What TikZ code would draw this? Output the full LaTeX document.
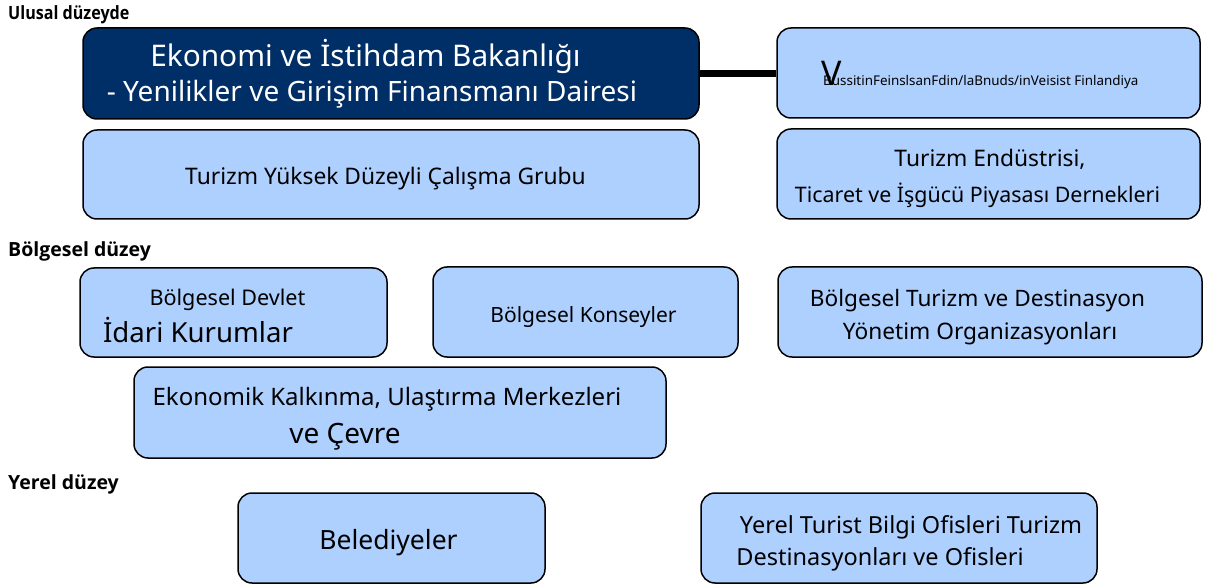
\documentclass[tikz,border=0pt]{standalone}
\usepackage{fontspec}
\setmainfont{Noto Sans}
\newfontfamily\lvlfont[FakeStretch=0.88]{Open Sans}
\newfontfamily\lvlwide{Open Sans}
\definecolor{boxblue}{RGB}{174,208,255}
\definecolor{navy}{RGB}{0,46,102}
\newcommand{\fs}[1]{\fontsize{#1}{#1}\selectfont}
\tikzset{
  unit/.style={draw=black, line width=1.5pt, rounded corners=14pt, fill=boxblue, inner sep=0pt},
  level/.style={anchor=base west, font=\lvlwide\bfseries\fs{19.5}, inner sep=0pt},
  txt/.style={anchor=base, inner sep=0pt},
}

\begin{document}
\begin{tikzpicture}[x=1pt,y=-1pt]
\useasboundingbox (0,0) rectangle (1205,585);

% levels
\node[level, font=\lvlfont\bfseries\fs{18.3}] (ulusal) at (8,20) {Ulusal düzeyde};
\node[level] (bolgesel) at (8,257) {Bölgesel düzey};
\node[level] (yerel) at (8,489) {Yerel düzey};

% boxes
\node[unit, fill=navy, minimum width=616pt, minimum height=91pt] (bakanlik) at (391,73.5) {};
\node[unit, minimum width=423pt, minimum height=90pt] (finland) at (988.5,73) {};
\node[unit, minimum width=616pt, minimum height=89pt] (calisma) at (391,174.5) {};
\node[unit, minimum width=423pt, minimum height=90pt] (dernek) at (988.5,174) {};
\node[unit, minimum width=307pt, minimum height=89pt] (devlet) at (233.5,312.5) {};
\node[unit, minimum width=305pt, minimum height=90pt] (konsey) at (585.5,312) {};
\node[unit, minimum width=424pt, minimum height=90pt] (dmo) at (990,312) {};
\node[unit, minimum width=532pt, minimum height=91pt] (ely) at (400,412.5) {};
\node[unit, minimum width=307pt, minimum height=90pt] (belediye) at (391.5,538) {};
\node[unit, minimum width=396pt, minimum height=90pt] (ofis) at (899,538) {};

\draw[line width=7pt] (bakanlik.east) -- (bakanlik.east -| finland.west);

% texts
\node[txt, text=white, font=\fs{29.8}] (bak1) at (365.5,67) {Ekonomi ve İstihdam Bakanlığı};
\node[txt, text=white, font=\fs{28}] (bak2) at (372,102) {- Yenilikler ve Girişim Finansmanı Dairesi};
\node[txt, anchor=base west, font=\fs{34}] (fin1) at (821,86) {V};
\node[txt, anchor=base west, font=\fs{13.4}] (fin2) at (823,86) {BussitinFeinslsanFdin/laBnuds/inVeisist Finlandiya};
\node[txt, font=\fs{22.8}] (cal1) at (385.5,185) {Turizm Yüksek Düzeyli Çalışma Grubu};
\node[txt, font=\fs{22.8}] (der1) at (990,167) {Turizm Endüstrisi,};
\node[txt, font=\fs{21.4}] (der2) at (977.5,203) {Ticaret ve İşgücü Piyasası Dernekleri};
\node[txt, font=\fs{21.6}] (dev1) at (227.5,306) {Bölgesel Devlet};
\node[txt, font=\fs{27.6}] (dev2) at (198,342) {İdari Kurumlar};
\node[txt, font=\fs{21}] (kon1) at (583.5,323) {Bölgesel Konseyler};
\node[txt, font=\fs{22.6}] (dmo1) at (977.5,307) {Bölgesel Turizm ve Destinasyon};
\node[txt, font=\fs{22.7}] (dmo2) at (980,340) {Yönetim Organizasyonları};
\node[txt, font=\fs{24}] (ely1) at (387,405) {Ekonomik Kalkınma, Ulaştırma Merkezleri};
\node[txt, font=\fs{28}] (ely2) at (345,443) {ve Çevre};
\node[txt, font=\fs{26.5}] (bel1) at (388.5,549) {Belediyeler};
\node[txt, font=\fs{23.5}] (ofi1) at (911,533) {Yerel Turist Bilgi Ofisleri Turizm};
\node[txt, font=\fs{23.5}] (ofi2) at (880,565) {Destinasyonları ve Ofisleri};

\end{tikzpicture}
\end{document}
